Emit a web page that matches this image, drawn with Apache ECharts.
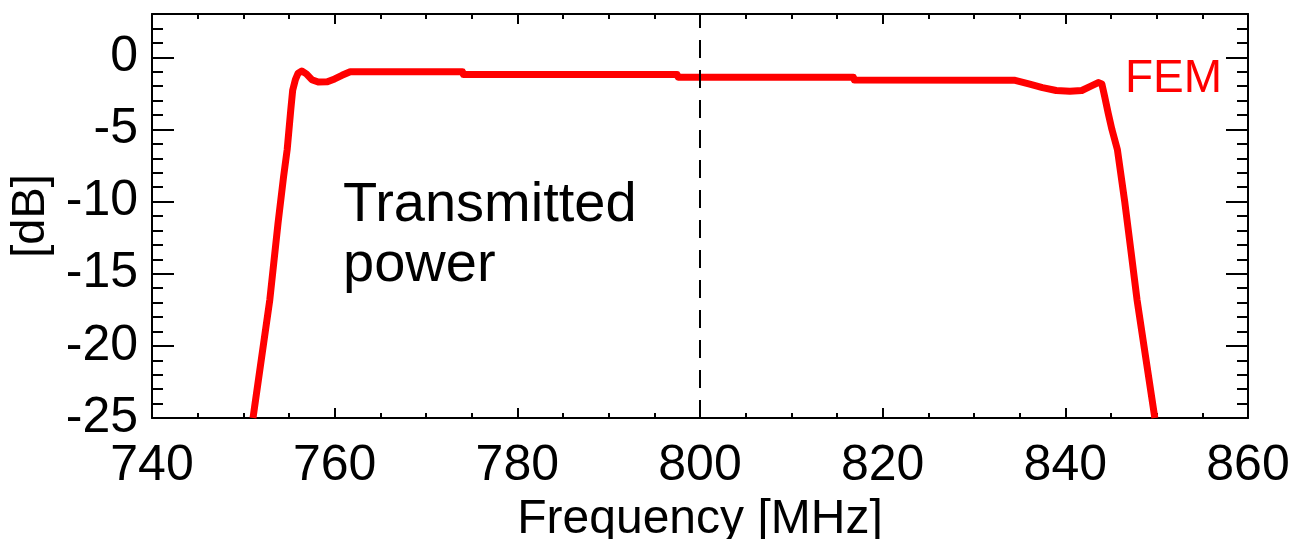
<!DOCTYPE html>
<html><head><meta charset="utf-8">
<script src="https://cdn.jsdelivr.net/npm/echarts@6/dist/echarts.min.js"></script>
<style>html,body{margin:0;padding:0;background:#fff}#c{width:1297px;height:539px}</style>
</head><body><div id="c"></div>
<script>
const freq = [751.06, 752.0, 752.9, 753.8, 754.4, 754.8, 755.0, 755.2, 755.4, 755.7, 756.0, 756.4, 756.9, 757.5, 758.2, 759.2, 760.0, 760.8, 761.7, 774.0, 774.1, 797.5, 797.6, 816.8, 816.9, 834.5, 836.0, 837.5, 839.0, 840.5, 841.8, 842.8, 843.6, 844.0, 844.3, 844.7, 845.1, 845.7, 846.5, 847.2, 847.85, 848.8, 849.8];
const femDb = [-25, -20.8, -16.8, -11.5, -8.3, -6.4, -5.0, -3.6, -2.3, -1.55, -1.1, -0.95, -1.15, -1.55, -1.72, -1.7, -1.5, -1.25, -1.0, -1.0, -1.2, -1.2, -1.38, -1.38, -1.58, -1.6, -1.85, -2.1, -2.3, -2.35, -2.3, -2.0, -1.75, -1.85, -2.7, -3.9, -5.0, -6.4, -10.0, -13.5, -16.8, -20.8, -25];
const xTicks = [740, 760, 780, 800, 820, 840, 860];
const yTicks = [-25, -20, -15, -10, -5, 0];
const centerFreq = 800;
const seriesName = 'FEM';
const annotation = 'Transmitted\npower';

const FONT = 'Liberation Sans, Arial, Helvetica, sans-serif';
const data = freq.map((f, i) => [f, femDb[i]]);
const axisLine = { show: true, onZero: false, lineStyle: { color: '#000', width: 2 } };
const baseX = {
  type: 'value', min: xTicks[0], max: xTicks[xTicks.length - 1], interval: xTicks[1] - xTicks[0],
  axisLine, splitLine: { show: false },
  axisTick: { show: true, inside: true, length: 10, lineStyle: { color: '#000', width: 2 } },
  minorTick: { show: true, splitNumber: 4, length: 5, lineStyle: { color: '#000', width: 2 } }
};
const yMin = yTicks[0], yMax = 3;
function yAx(pos, major, labels) {
  return {
    type: 'value', position: pos, min: yMin, max: yMax, interval: major ? 5 : 1,
    axisLine: major ? axisLine : { show: false, onZero: false }, splitLine: { show: false },
    axisTick: { show: true, inside: true, length: major ? 22 : 11, lineStyle: { color: '#000', width: 2 } },
    axisLabel: labels ? {
      show: true, color: '#000', fontFamily: FONT, fontSize: 50, margin: 14,
      formatter: v => (yTicks.indexOf(v) >= 0 ? String(v) : '')
    } : { show: false },
    name: labels ? '[dB]' : '', nameLocation: 'middle', nameRotate: 90, nameGap: 94,
    nameTextStyle: { color: '#000', fontFamily: FONT, fontSize: 47 }
  };
}
const chart = echarts.init(document.getElementById('c'), null, { renderer: 'canvas' });
chart.setOption({
  animation: false,
  backgroundColor: '#fff',
  grid: { left: 152, right: 49, top: 14, bottom: 121, containLabel: false, outerBoundsMode: 'none' },
  xAxis: [
    Object.assign({}, baseX, { position: 'bottom',
      axisLabel: { show: true, color: '#000', fontFamily: FONT, fontSize: 50, margin: 23 },
      name: 'Frequency [MHz]', nameLocation: 'middle', nameGap: 77,
      nameTextStyle: { color: '#000', fontFamily: FONT, fontSize: 48 } }),
    Object.assign({}, baseX, { position: 'top', axisLabel: { show: false } })
  ],
  yAxis: [yAx('left', true, true), yAx('left', false, false), yAx('right', true, false), yAx('right', false, false)],
  series: [{
    name: seriesName, type: 'line', xAxisIndex: 0, yAxisIndex: 0, data: data,
    showSymbol: false, symbol: 'none', clip: true,
    lineStyle: { color: '#ff0000', width: 7, join: 'round' },
    markLine: {
      silent: true, symbol: 'none', label: { show: false },
      lineStyle: { color: '#000', width: 2, type: [18, 12] },
      data: [{ xAxis: centerFreq }]
    }
  }],
  graphic: [
    { type: 'text', left: 343, top: 176, style: { text: annotation, font: '56px ' + FONT, fill: '#000', lineHeight: 60 } },
    { type: 'text', left: 1125, top: 56, style: { text: seriesName, font: '46px ' + FONT, fill: '#ff0000' } }
  ]
});
</script></body></html>
